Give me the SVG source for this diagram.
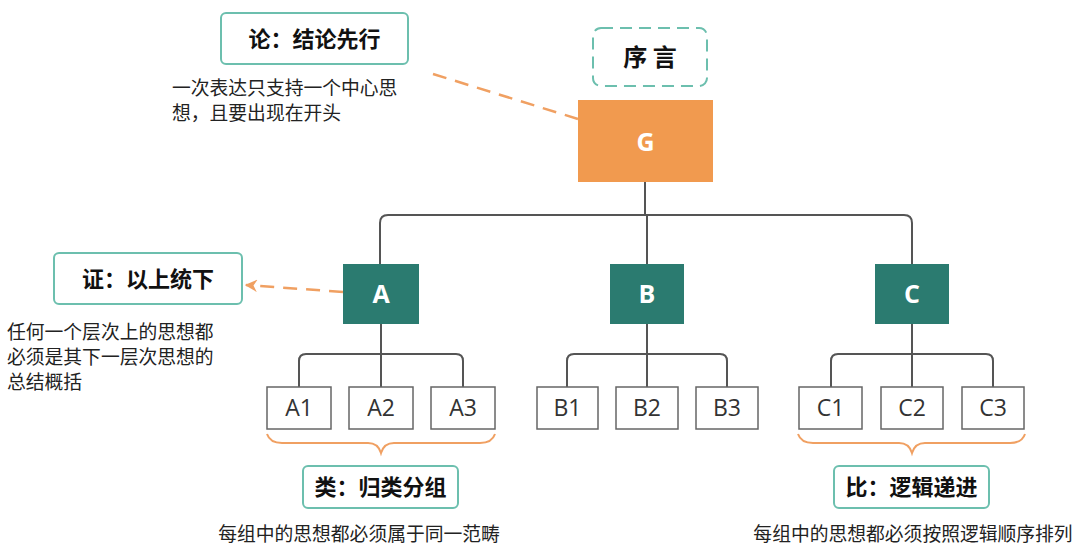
<svg xmlns="http://www.w3.org/2000/svg" width="1080" height="550" viewBox="0 0 1080 550">
<style>
.bg{fill:#fff}
.conn{fill:none;stroke:#555;stroke-width:2}
.dash{fill:none;stroke:#f0a062;stroke-width:2.5;stroke-dasharray:14 9}
.brace{fill:none;stroke:#f0a062;stroke-width:2}
.lbl{fill:#fff;stroke:#6cbfae;stroke-width:2}
.lbltxt{font-family:"Noto Sans CJK SC",sans-serif;font-weight:bold;font-size:22px;fill:#111;text-anchor:middle}
.desc{font-family:"Noto Sans CJK SC",sans-serif;font-size:18.8px;fill:#222}
.main{fill:#2b7b70}
.maintxt{font-family:"Open Sans",sans-serif;font-weight:bold;font-size:25px;fill:#fff;text-anchor:middle}
.sub{fill:#fff;stroke:#666;stroke-width:1.5}
.subtxt{font-family:"Open Sans",sans-serif;font-size:23px;fill:#333;text-anchor:middle}
</style>
<defs>
<marker id="arr" viewBox="0 0 10 10" refX="9" refY="5" markerWidth="5" markerHeight="5" orient="auto-start-reverse">
<path d="M0,0 L10,5 L0,10 L3,5 Z" fill="#f0a062"/>
</marker>
</defs>
<rect class="bg" x="0" y="0" width="1080" height="550"/>
<g id="connectors">
<path class="conn" d="M645,182 V215 M380,264 V223 Q380,215 388,215 H904 Q912,215 912,223 V264 M647,215 V264"/>
<path class="conn" d="M381,324 V387 M299,387 V361 Q299,354 306,354 H456 Q463,354 463,361 V387"/>
<path class="conn" d="M647,324 V387 M567,387 V361 Q567,354 574,354 H720 Q727,354 727,361 V387"/>
<path class="conn" d="M912,324 V387 M831,387 V361 Q831,354 838,354 H986 Q993,354 993,361 V387"/>
<path class="dash" d="M433,74 L578,119"/>
<path class="dash" d="M343,292 L246,285" marker-end="url(#arr)"/>
<path class="brace" d="M267,434 Q270,443 282,443 H368 Q378,443 381,453 Q384,443 394,443 H480 Q492,443 495,434"/>
<path class="brace" d="M798,434 Q801,443 813,443 H899 Q909,443 912,453 Q915,443 925,443 H1010 Q1022,443 1025,434"/>
</g>
<g id="label-lun">
<rect class="lbl" x="221" y="13" width="187" height="51" rx="5"/>
<text class="lbltxt" x="314.5" y="47">论：结论先行</text>
<text class="desc" x="172" y="95">一次表达只支持一个中心思</text>
<text class="desc" x="172" y="120">想，且要出现在开头</text>
</g>
<g id="preface">
<rect x="593" y="28" width="114" height="58" rx="8" fill="#fff" stroke="#6cbfae" stroke-width="2" stroke-dasharray="12 7"/>
<text class="lbltxt" x="650" y="66" style="font-size:24px">序 言</text>
</g>
<g id="node-G">
<rect x="578" y="100" width="135" height="82" fill="#f19a4f"/>
<text class="maintxt" x="645.5" y="151">G</text>
</g>
<g id="label-zheng">
<rect class="lbl" x="54" y="253" width="188" height="51" rx="5"/>
<text class="lbltxt" x="148" y="287">证：以上统下</text>
<text class="desc" x="7" y="339">任何一个层次上的思想都</text>
<text class="desc" x="7" y="364">必须是其下一层次思想的</text>
<text class="desc" x="7" y="389">总结概括</text>
</g>
<g id="node-A"><rect class="main" x="343" y="264" width="76" height="60"/><text class="maintxt" x="381" y="303">A</text></g>
<g id="node-B"><rect class="main" x="610" y="264" width="74" height="60"/><text class="maintxt" x="647" y="303">B</text></g>
<g id="node-C"><rect class="main" x="875" y="264" width="74" height="60"/><text class="maintxt" x="912" y="303">C</text></g>
<g id="node-A1"><rect class="sub" x="267" y="387" width="64" height="42"/><text class="subtxt" x="299" y="416">A1</text></g>
<g id="node-A2"><rect class="sub" x="349" y="387" width="64" height="42"/><text class="subtxt" x="381" y="416">A2</text></g>
<g id="node-A3"><rect class="sub" x="431" y="387" width="64" height="42"/><text class="subtxt" x="463" y="416">A3</text></g>
<g id="node-B1"><rect class="sub" x="537" y="387" width="61" height="42"/><text class="subtxt" x="567.5" y="416">B1</text></g>
<g id="node-B2"><rect class="sub" x="616" y="387" width="62" height="42"/><text class="subtxt" x="647" y="416">B2</text></g>
<g id="node-B3"><rect class="sub" x="696" y="387" width="62" height="42"/><text class="subtxt" x="727" y="416">B3</text></g>
<g id="node-C1"><rect class="sub" x="799" y="387" width="63" height="42"/><text class="subtxt" x="830.5" y="416">C1</text></g>
<g id="node-C2"><rect class="sub" x="881" y="387" width="62" height="42"/><text class="subtxt" x="912" y="416">C2</text></g>
<g id="node-C3"><rect class="sub" x="962" y="387" width="62" height="42"/><text class="subtxt" x="993" y="416">C3</text></g>
<g id="label-lei">
<rect class="lbl" x="303" y="466" width="155" height="42" rx="5"/>
<text class="lbltxt" x="380.5" y="495">类：归类分组</text>
<text class="desc" x="359" y="541" text-anchor="middle">每组中的思想都必须属于同一范畴</text>
</g>
<g id="label-bi">
<rect class="lbl" x="834" y="466" width="155" height="42" rx="5"/>
<text class="lbltxt" x="911.5" y="495">比：逻辑递进</text>
<text class="desc" x="913" y="541" text-anchor="middle">每组中的思想都必须按照逻辑顺序排列</text>
</g>
</svg>
